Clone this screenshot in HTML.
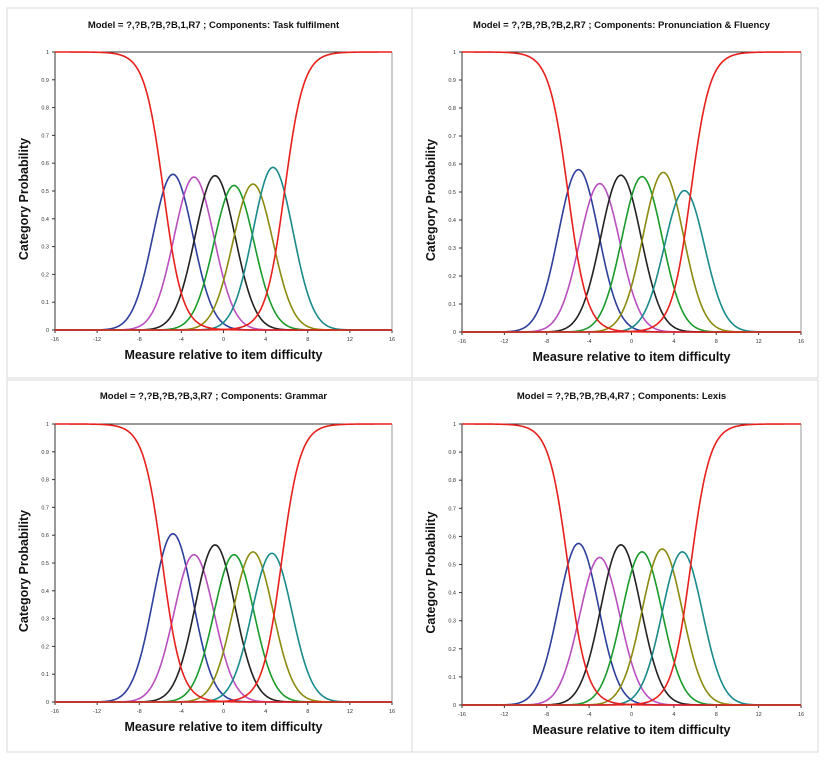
<!DOCTYPE html>
<html><head><meta charset="utf-8"><style>
body{margin:0;background:#fff;width:825px;height:763px;overflow:hidden}
svg{display:block;font-family:"Liberation Sans",sans-serif}
</style></head><body>
<svg id="chart" width="825" height="763" viewBox="0 0 825 763"></svg>
<script>
// Data
const titles=["Model = ?,?B,?B,?B,1,R7  ; Components: Task fulfilment","Model = ?,?B,?B,?B,2,R7  ; Components: Pronunciation & Fluency","Model = ?,?B,?B,?B,3,R7  ; Components: Grammar","Model = ?,?B,?B,?B,4,R7  ; Components: Lexis"];
const peaks1=[-4.8,-2.8,-0.8,1,2.8,4.7];
const heights1=[0.56,0.55,0.555,0.52,0.525,0.585];
const redMid1=[-5.7,5.8];
const peaks2=[-5,-3,-1,1,3,5];
const heights2=[0.58,0.53,0.56,0.555,0.57,0.505];
const redMid2=[-6,5.6];
const peaks3=[-4.8,-2.8,-0.8,1,2.8,4.6];
const heights3=[0.605,0.53,0.565,0.53,0.54,0.535];
const redMid3=[-5.8,5.5];
const peaks4=[-5,-3,-1,1,2.9,4.8];
const heights4=[0.575,0.525,0.57,0.545,0.555,0.545];
const redMid4=[-6,5.6];
const xTicks=[-16,-12,-8,-4,0,4,8,12,16];
const yTicks=[0,0.1,0.2,0.3,0.4,0.5,0.6,0.7,0.8,0.9,1];
const colors=["#2c3f9c","#b94fbf","#222222","#1a9a2a","#8a8a10","#1a8a8a"];
const allPeaks=[peaks1,peaks2,peaks3,peaks4];
const allHeights=[heights1,heights2,heights3,heights4];
const allRed=[redMid1,redMid2,redMid3,redMid4];
const SIG=1.9, RW=0.9;
const panels=[
 {bx:7,by:8,bw:405,bh:370,x0:55,x1:392,yT:52,yB:330,ty:28},
 {bx:412,by:8,bw:406,bh:370,x0:462,x1:801,yT:52,yB:332,ty:28},
 {bx:7,by:380,bw:405,bh:372,x0:55,x1:392,yT:424,yB:702,ty:399},
 {bx:412,by:380,bw:406,bh:372,x0:462,x1:801,yT:424,yB:705,ty:399}
];
const NS="http://www.w3.org/2000/svg";
const svg=document.getElementById('chart');
function mk(tag,attrs,parent){const e=document.createElementNS(NS,tag);for(const k in attrs)e.setAttribute(k,attrs[k]);(parent||svg).appendChild(e);return e;}
panels.forEach((p,i)=>{
 const g=mk('g',{});
 
 
 const fr=mk('rect',{x:p.bx,y:p.by,width:p.bw,height:p.bh,fill:'none',stroke:'#d8d8d8','stroke-width':1},g);
 
 const sx=v=>p.x0+(v+16)/32*(p.x1-p.x0);
 const sy=v=>p.yB-v*(p.yB-p.yT);
 const t=mk('text',{x:(p.x0+p.x1)/2-10,y:p.ty,'font-size':9.5,'font-weight':'bold','text-anchor':'middle',fill:'#111'},g);
 t.textContent=titles[i];
 const ax=mk('g',{},g);
 mk('line',{x1:p.x0,y1:p.yT,x2:p.x1,y2:p.yT,stroke:'#333','stroke-width':1},ax);
 mk('line',{x1:p.x1,y1:p.yT,x2:p.x1,y2:p.yB,stroke:'#999','stroke-width':1},ax);
 mk('line',{x1:p.x0,y1:p.yT,x2:p.x0,y2:p.yB,stroke:'#333','stroke-width':1},ax);
 mk('line',{x1:p.x0,y1:p.yB,x2:p.x1,y2:p.yB,stroke:'#333','stroke-width':1},ax);
 yTicks.forEach(v=>{mk('line',{x1:p.x0-3,y1:sy(v),x2:p.x0,y2:sy(v),stroke:'#333'},ax);
  const tl=mk('text',{x:p.x0-6,y:sy(v)+2,'font-size':5.5,'text-anchor':'end',fill:'#333'},ax);tl.textContent=String(v);
  });
 xTicks.forEach(v=>{mk('line',{x1:sx(v),y1:p.yB,x2:sx(v),y2:p.yB+3,stroke:'#333'},ax);
  const tl=mk('text',{x:sx(v),y:p.yB+11,'font-size':5.5,'text-anchor':'middle',fill:'#333'},ax);tl.textContent=String(v);
  });
 const xt=mk('text',{x:(p.x0+p.x1)/2,y:p.yB+29,'font-size':12.5,'font-weight':'bold','text-anchor':'middle',fill:'#111'},g);
 xt.textContent='Measure relative to item difficulty';
 const cy=(p.yT+p.yB)/2+8;
 const yt=mk('text',{x:p.x0-27,y:cy,'font-size':12.5,'font-weight':'bold','text-anchor':'middle',fill:'#111',transform:`rotate(-90 ${p.x0-27} ${cy})`},g);
 yt.textContent='Category Probability';
 const xs=[];for(let x=-16;x<=16.0001;x+=0.1)xs.push(x);
 const line=f=>xs.map((x,j)=>(j?'L':'M')+sx(x).toFixed(2)+','+sy(f(x)).toFixed(2)).join('');
 const pk=allPeaks[i],hs=allHeights[i],rm=allRed[i];
 pk.forEach((mu,k)=>{
  const path=mk('path',{d:line(x=>hs[k]*Math.exp(-(x-mu)*(x-mu)/(2*SIG*SIG))),fill:'none',stroke:colors[k],'stroke-width':1.6},g);
  
  
 });
 const r1=mk('path',{d:line(x=>1/(1+Math.exp((x-rm[0])/RW))),fill:'none',stroke:'#e8201c','stroke-width':1.6},g);
 
 
 const r2=mk('path',{d:line(x=>1/(1+Math.exp(-(x-rm[1])/RW))),fill:'none',stroke:'#e8201c','stroke-width':1.6},g);
 
 
});
</script>
</body></html>
